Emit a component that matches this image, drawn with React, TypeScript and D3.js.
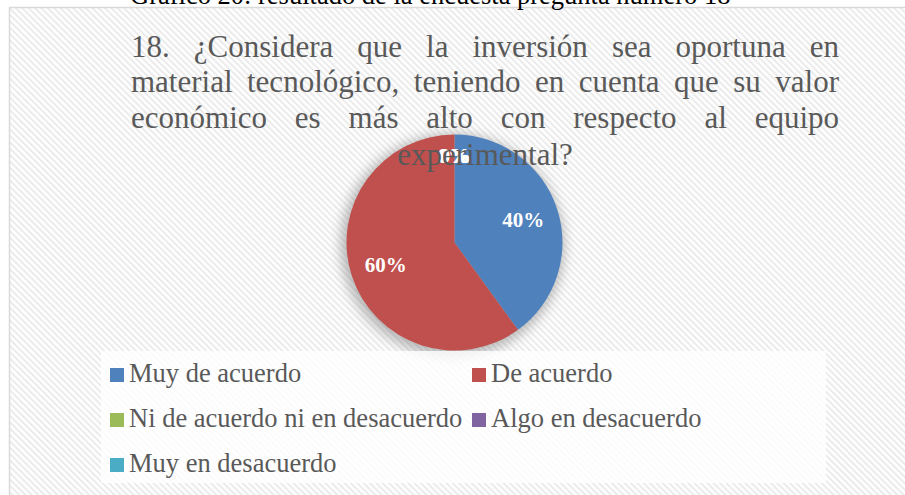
import React, { useEffect, useRef } from 'react';
import * as d3 from 'd3';

const categories = [
  'Muy de acuerdo',
  'De acuerdo',
  'Ni de acuerdo ni en desacuerdo',
  'Algo en desacuerdo',
  'Muy en desacuerdo',
];
const values = [40, 60, 0, 0, 0];
const colors = ['#4f81bd', '#c0504d', '#9bbb59', '#8064a2', '#4bacc6'];

const caption = 'Gráfico 20: resultado de la encuesta pregunta número 18';
const titleLines = [
  '18. ¿Considera que la inversión sea oportuna en',
  'material tecnológico, teniendo en cuenta que su valor',
  'económico es más alto con respecto al equipo',
  'experimental?',
];

const W = 905;
const H = 495;
const SERIF = '"Liberation Serif", "Times New Roman", serif';

const App = () => {
  const svgRef = useRef<SVGSVGElement>(null);

  useEffect(() => {
    const svg = d3.select(svgRef.current);
    svg.selectAll('*').remove();

    const defs = svg.append('defs');
    const pat = defs.append('pattern')
      .attr('id', 'stripes')
      .attr('patternUnits', 'userSpaceOnUse')
      .attr('width', 4.5)
      .attr('height', 4.5)
      .attr('patternTransform', 'rotate(-45)');
    pat.append('rect').attr('width', 4.5).attr('height', 4.5).attr('fill', '#ffffff');
    pat.append('rect').attr('width', 2).attr('height', 4.5).attr('fill', '#ebebeb');

    const shadow = defs.append('filter')
      .attr('id', 'pieShadow')
      .attr('x', '-30%').attr('y', '-30%')
      .attr('width', '160%').attr('height', '160%');
    shadow.append('feGaussianBlur').attr('stdDeviation', 6);

    // chart area
    svg.append('rect')
      .attr('x', 9.5).attr('y', 7.5)
      .attr('width', W).attr('height', H)
      .attr('fill', 'url(#stripes)')
      .attr('stroke', '#d9d9d9')
      .attr('stroke-width', 1.5);

    // caption above the chart (cut by the page edge)
    svg.append('text')
      .attr('x', 130).attr('y', 4)
      .attr('font-family', SERIF)
      .attr('font-size', 26.5)
      .attr('fill', '#000')
      .text(caption);

    // pie
    const cx = 454.5;
    const cy = 242.5;
    const r = 108;
    const pie = d3.pie<number>().sort(null).value(d => d);
    const arcs = pie(values);
    const arc = d3.arc<d3.PieArcDatum<number>>().innerRadius(0).outerRadius(r);

    const g = svg.append('g').attr('transform', `translate(${cx},${cy})`);
    g.append('circle')
      .attr('cx', -2).attr('cy', 3)
      .attr('r', r + 4)
      .attr('fill', '#7a7a7a')
      .attr('opacity', 0.5)
      .attr('filter', 'url(#pieShadow)');

    g.selectAll('path.slice')
      .data(arcs)
      .enter().append('path')
      .attr('class', 'slice')
      .attr('d', arc)
      .attr('fill', (d, i) => colors[i])
      .attr('stroke', 'none');

    // title (justified)
    const tg = svg.append('g')
      .attr('font-family', SERIF)
      .attr('font-size', 31)
      .attr('fill', '#595959');
    const left = 131;
    const right = 839;
    const baselines = [57, 92, 128, 165];
    titleLines.forEach((line, li) => {
      const words = line.split(' ');
      if (li === titleLines.length - 1) {
        tg.append('text')
          .attr('x', (left + right) / 2)
          .attr('y', baselines[li])
          .attr('text-anchor', 'middle')
          .text(line);
        return;
      }
      const nodes = words.map(w => tg.append('text').attr('y', baselines[li]).text(w));
      const widths = nodes.map(n => (n.node() as SVGTextElement).getComputedTextLength());
      const total = d3.sum(widths);
      const gap = (right - left - total) / (words.length - 1);
      let x = left;
      nodes.forEach((n, i) => {
        n.attr('x', x);
        x += widths[i] + gap;
      });
    });

    // data labels
    const labelArc = d3.arc<d3.PieArcDatum<number>>().innerRadius(r * 0.67).outerRadius(r * 0.67);
    const zeroArc = d3.arc<d3.PieArcDatum<number>>().innerRadius(r * 0.8).outerRadius(r * 0.8);
    g.selectAll('text.lbl')
      .data(arcs)
      .enter().append('text')
      .attr('class', 'lbl')
      .attr('transform', (d, i) => {
        const [x, y] = d.value === 0 ? zeroArc.centroid(d) : labelArc.centroid(d);
        const dx = d.value === 0 ? (i - 3) : 0;
        return `translate(${x + dx},${y})`;
      })
      .attr('text-anchor', 'middle')
      .attr('dy', '0.35em')
      .attr('font-family', SERIF)
      .attr('font-weight', 'bold')
      .attr('font-size', 21)
      .attr('fill', '#ffffff')
      .text(d => `${Math.round((d.value / d3.sum(values)) * 100)}%`);

    // legend
    svg.append('rect')
      .attr('x', 101).attr('y', 351)
      .attr('width', 725).attr('height', 132)
      .attr('fill', '#ffffff')
      .attr('opacity', 0.8);

    const colX = [110, 472];
    const rowY = [382, 427, 472];
    const lg = svg.append('g')
      .attr('font-family', SERIF)
      .attr('font-size', 26.5)
      .attr('fill', '#595959');
    categories.forEach((c, i) => {
      const x = colX[i % 2];
      const y = rowY[Math.floor(i / 2)];
      lg.append('rect')
        .attr('x', x).attr('y', y - 14)
        .attr('width', 14).attr('height', 14)
        .attr('fill', colors[i]);
      lg.append('text')
        .attr('x', x + 19).attr('y', y)
        .text(c);
    });
  }, []);

  return (
    <svg
      ref={svgRef}
      width={W}
      height={H}
      style={{ position: 'absolute', left: 0, top: 0, display: 'block', background: '#fff' }}
    />
  );
};

export default App;
